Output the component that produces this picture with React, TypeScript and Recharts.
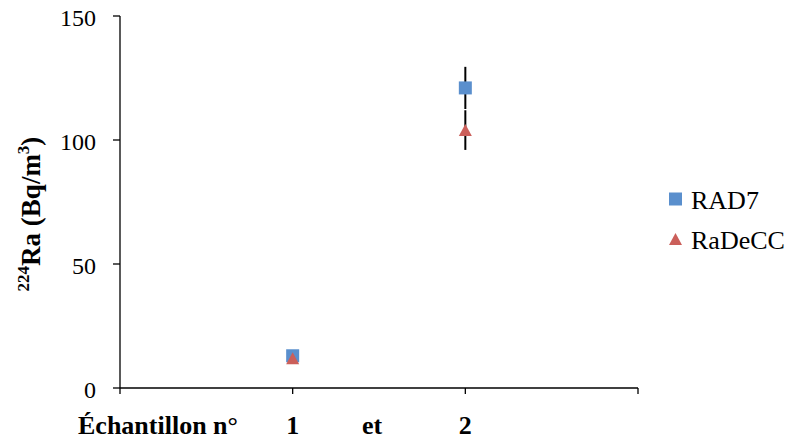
import React from "react";
import {
  ScatterChart,
  Scatter,
  XAxis,
  YAxis,
  ErrorBar,
  Legend,
  ReferenceDot,
} from "recharts";

const seriesNames = ["RAD7", "RaDeCC"];
const sampleIds = [1, 2];
const rad7Values = [13, 121];
const rad7Errors = [1.5, 8.5];
const radeccValues = [12, 104];
const radeccErrors = [1, 8];
const xTicks = [0, 1, 2, 3];
const xTickLabels = ["", "1", "2", ""];
const yTicks = [0, 50, 100, 150];
const axisTexts = [
  { x: 0.22, text: "Échantillon n°" },
  { x: 1.46, text: "et" },
];

const colors = { RAD7: "#5A8FCD", RaDeCC: "#CB5F5A" };
const FONT = "Liberation Serif";

const rad7Data = sampleIds.map((x, i) => ({ x, y: rad7Values[i], err: rad7Errors[i] }));
const radeccData = sampleIds.map((x, i) => ({ x, y: radeccValues[i], err: radeccErrors[i] }));

const SquareShape = (props: any) => {
  const { cx, cy } = props;
  const s = 13;
  return <rect x={cx - s / 2} y={cy - s / 2} width={s} height={s} fill={colors.RAD7} />;
};

const TriangleShape = (props: any) => {
  const { cx, cy } = props;
  const w = 13;
  const h = 12;
  return (
    <path
      d={`M${cx},${cy - h / 2} L${cx + w / 2},${cy + h / 2} L${cx - w / 2},${cy + h / 2} Z`}
      fill={colors.RaDeCC}
    />
  );
};

const XTick = (props: any) => {
  const { x, y, payload } = props;
  const idx = xTicks.indexOf(payload.value);
  const label = idx >= 0 ? xTickLabels[idx] : "";
  return (
    <text
      x={x}
      y={y}
      dy={38}
      textAnchor="middle"
      style={{ fontFamily: FONT, fontWeight: "bold", fontSize: 26 }}
      fill="#000"
    >
      {label}
    </text>
  );
};

const YTick = (props: any) => {
  const { x, y, payload } = props;
  return (
    <text
      x={x}
      y={y}
      dy={10}
      textAnchor="end"
      style={{ fontFamily: FONT, fontSize: 24 }}
      fill="#000"
    >
      {payload.value}
    </text>
  );
};

const YLabel = (props: any) => {
  const { viewBox } = props;
  const cx = 40;
  const cy = viewBox.y + viewBox.height / 2 + 12;
  return (
    <text
      x={cx}
      y={cy}
      transform={`rotate(-90, ${cx}, ${cy})`}
      textAnchor="middle"
      style={{ fontFamily: FONT, fontWeight: "bold", fontSize: 27 }}
      fill="#000"
    >
      <tspan style={{ fontSize: 17 }} dy={-11}>224</tspan>
      <tspan dy={11}>Ra (Bq/m</tspan>
      <tspan style={{ fontSize: 17 }} dy={-11}>3</tspan>
      <tspan dy={11}>)</tspan>
    </text>
  );
};

const AxisText = (text: string) => (props: any) => {
  const { viewBox } = props;
  const x = viewBox.x + viewBox.width / 2;
  const y = viewBox.y + viewBox.height / 2;
  return (
    <text
      x={x}
      y={y}
      dy={46}
      textAnchor="middle"
      style={{ fontFamily: FONT, fontWeight: "bold", fontSize: 26 }}
      fill="#000"
    >
      {text}
    </text>
  );
};

const LegendContent = () => (
  <div style={{ fontFamily: FONT, fontSize: 26, color: "#000", lineHeight: "30px" }}>
    {seriesNames.map((name) => (
      <div key={name} style={{ display: "flex", alignItems: "center", height: 40, whiteSpace: "nowrap" }}>
        <svg width={20} height={16} style={{ marginRight: 5, marginTop: -4, flexShrink: 0 }}>
          {name === "RAD7" ? (
            <rect x={3} y={1.5} width={13} height={13} fill={colors.RAD7} />
          ) : (
            <path d="M9.5,2 L16,14 L3,14 Z" fill={colors.RaDeCC} />
          )}
        </svg>
        <span>{name}</span>
      </div>
    ))}
  </div>
);

export default function App() {
  return (
    <div style={{ position: "absolute", left: 0, top: 0 }}>
      <ScatterChart
        width={786}
        height={441}
        margin={{ top: 16, right: 28, left: 0, bottom: 0 }}
      >
        <XAxis
          type="number"
          dataKey="x"
          domain={[0, 3]}
          ticks={xTicks}
          interval={0}
          height={53}
          axisLine={{ stroke: "#000", strokeWidth: 1.3 }}
          tickLine={{ stroke: "#000", strokeWidth: 1.3 }}
          tickSize={6}
          tick={<XTick />}
        />
        <YAxis
          type="number"
          dataKey="y"
          domain={[0, 150]}
          ticks={yTicks}
          interval={0}
          width={120}
          axisLine={{ stroke: "#000", strokeWidth: 1.3 }}
          tickLine={{ stroke: "#000", strokeWidth: 1.3 }}
          tickSize={7}
          tickMargin={17}
          tick={<YTick />}
          label={<YLabel />}
        />
        <Legend
          layout="vertical"
          align="right"
          verticalAlign="middle"
          content={<LegendContent />}
          wrapperStyle={{ width: 120, left: 666, top: 181 }}
        />
        {axisTexts.map((t) => (
          <ReferenceDot
            key={t.text}
            x={t.x}
            y={0}
            r={1}
            fill="none"
            stroke="none"
            ifOverflow="visible"
            label={AxisText(t.text)}
          />
        ))}
        <Scatter
          name="RAD7"
          data={rad7Data}
          fill={colors.RAD7}
          shape={<SquareShape />}
          isAnimationActive={false}
        >
          <ErrorBar dataKey="err" direction="y" width={0} stroke="#000" strokeWidth={2} />
        </Scatter>
        <Scatter
          name="RaDeCC"
          data={radeccData}
          fill={colors.RaDeCC}
          shape={<TriangleShape />}
          isAnimationActive={false}
        >
          <ErrorBar dataKey="err" direction="y" width={0} stroke="#000" strokeWidth={2} />
        </Scatter>
      </ScatterChart>
    </div>
  );
}
